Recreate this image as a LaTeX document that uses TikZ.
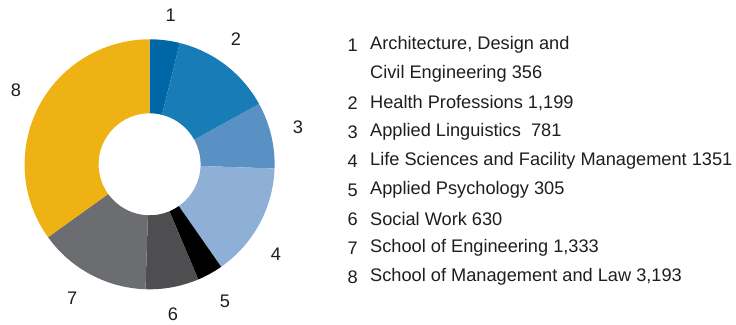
\documentclass[tikz,border=0pt]{standalone}
\usepackage{fontspec}
\setmainfont{Liberation Sans}
\definecolor{cA}{HTML}{0067A6}
\definecolor{cB}{HTML}{187CB7}
\definecolor{cC}{HTML}{5A91C5}
\definecolor{cD}{HTML}{8EAFD6}
\definecolor{cE}{HTML}{000000}
\definecolor{cF}{HTML}{4E4E50}
\definecolor{cG}{HTML}{6C6D70}
\definecolor{cH}{HTML}{EFB215}
\definecolor{txt}{HTML}{1E1E1E}
\newcommand\donutseg[3]{% color, from, to (clockwise degrees from top)
  \fill[#1] ($(O)+({90-#2}:\Rout)$) arc[start angle={90-#2}, end angle={90-#3}, radius=\Rout]
    -- ($(O)+({90-#3}:\Rin)$) arc[start angle={90-#3}, end angle={90-#2}, radius=\Rin] -- cycle;}
\usetikzlibrary{calc}
\begin{document}
\begin{tikzpicture}[x=1pt,y=1pt,
  lbl/.style={font=\fontsize{18.2}{21}\selectfont, text=txt, inner sep=0pt},
  leg/.style={lbl, anchor=west}]
\useasboundingbox (0,0) rectangle (736,324);
\def\Rout{125}
\def\Rin{51}
\coordinate (O) at (149.6,159.7);
\donutseg{cA}{0}{14.01}
\donutseg{cB}{14.01}{61.19}
\donutseg{cC}{61.19}{91.92}
\donutseg{cD}{91.92}{145.09}
\donutseg{cE}{145.09}{157.09}
\donutseg{cF}{157.09}{181.88}
\donutseg{cG}{181.88}{234.34}
\donutseg{cH}{234.34}{360}
% segment labels
\node[lbl] (l1) at (170.7,308.5) {1};
\node[lbl] (l2) at (236,284.5) {2};
\node[lbl] (l3) at (298,196.3) {3};
\node[lbl] (l4) at (276,70) {4};
\node[lbl] (l5) at (225,22.5) {5};
\node[lbl] (l6) at (173,10) {6};
\node[lbl] (l7) at (72.3,25.7) {7};
\node[lbl] (l8) at (16,234) {8};
% legend
\node[leg] (n1) at (347.5,279) {1};
\node[leg] (t1) at (370,279) {Architecture, Design and};
\node[leg] (t1b) at (370,250) {Civil Engineering 356};
\node[leg] (n2) at (347.5,221) {2};
\node[leg] (t2) at (370,221) {Health Professions 1,199};
\node[leg] (n3) at (347.5,192) {3};
\node[leg] (t3) at (370,192) {Applied Linguistics\ \ 781};
\node[leg] (n4) at (347.5,163) {4};
\node[leg] (t4) at (370,163) {Life Sciences and Facility Management 1351};
\node[leg] (n5) at (347.5,134) {5};
\node[leg] (t5) at (370,134) {Applied Psychology 305};
\node[leg] (n6) at (347.5,105) {6};
\node[leg] (t6) at (370,105) {Social Work 630};
\node[leg] (n7) at (347.5,76) {7};
\node[leg] (t7) at (370,76) {School of Engineering 1,333};
\node[leg] (n8) at (347.5,47) {8};
\node[leg] (t8) at (370,47) {School of Management and Law 3,193};
\end{tikzpicture}
\end{document}
